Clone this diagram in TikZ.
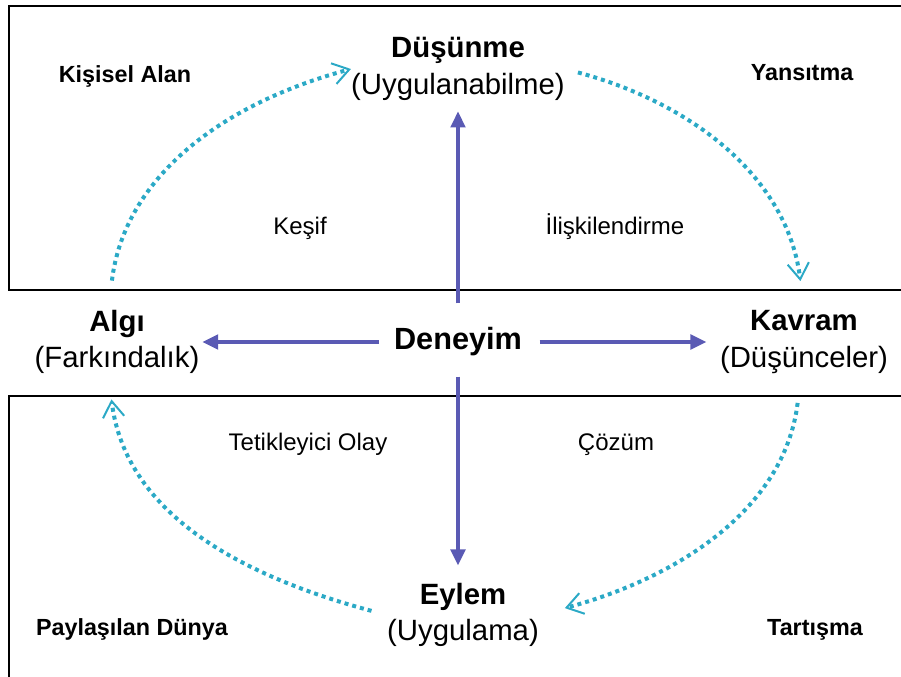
\documentclass[tikz,border=0pt]{standalone}
\usepackage{fontspec}
\setmainfont{Liberation Sans}
\usetikzlibrary{arrows.meta}
\definecolor{flowblue}{HTML}{5A5AB4}
\definecolor{cyclecyan}{HTML}{2BA9C6}
\tikzset{
  stage/.style={align=center,inner sep=0pt,font=\fontsize{22}{27.5}\selectfont},
  area/.style={anchor=base,inner sep=0pt,font=\bfseries\fontsize{17.5}{20}\selectfont},
  phase/.style={anchor=base,inner sep=0pt,font=\fontsize{18}{20}\selectfont},
  flow/.style={draw=flowblue,line width=2.5pt,-{Triangle[length=12pt,width=11pt]}},
  cyclearrow/.style={draw=cyclecyan,line width=3pt,dash pattern=on 3pt off 3pt,
    -{Straight Barb[length=12pt,width=16pt,line width=1.5pt]}}
}
\begin{document}
\begin{tikzpicture}[x=0.75pt,y=0.75pt]
      \useasboundingbox (0,0) rectangle (901,-677);
      \clip (0,0) rectangle (901,-677);
      \draw[line width=1.8pt] (9,-6) rectangle (912,-290);
      \draw[line width=1.8pt] (9,-396) rectangle (912,-690);
      \draw
        (458,-69) node[stage] (dusunme){\textbf{Düşünme}\\(Uygulanabilme)}
        (117,-342) node[stage] (algi){\textbf{Algı}\\(Farkındalık)}
        (804,-342) node[stage] (kavram){\textbf{Kavram}\\(Düşünceler)}
        (463,-615) node[stage] (eylem){\textbf{Eylem}\\(Uygulama)}
        (458,-342) node[inner sep=0pt,font=\bfseries\fontsize{23}{27}\selectfont] (deneyim){Deneyim};
      \draw
        (125,-83) node[area] (kisisel){Kişisel Alan}
        (802,-81) node[area] (yansitma){Yansıtma}
        (132,-635) node[area] (paylasilan){Paylaşılan Dünya}
        (815,-635) node[area] (tartisma){Tartışma}
        (300,-235) node[phase] (kesif){Keşif}
        (615,-235) node[phase] (iliskilendirme){İlişkilendirme}
        (308,-451) node[phase] (tetikleyici){Tetikleyici Olay}
        (616,-451) node[phase] (cozum){Çözüm};
      \begin{scope}[flow]
        \draw[shorten <=18pt,shorten >=8pt] (deneyim.north) to (deneyim.north |- dusunme.south);
        \draw[shorten <=11pt,shorten >=2pt] (deneyim.west) to (deneyim.west -| algi.east);
        \draw[shorten <=13pt,shorten >=10pt] (deneyim.east) to (deneyim.east -| kavram.west);
        \draw[shorten <=15pt,shorten >=13pt] (deneyim.south) to (deneyim.south |- eylem.north);
      \end{scope}
      \begin{scope}[cyclearrow]
        \draw[shorten <=22pt] (algi.105) to[out=83,in=195] (dusunme.west);
        \draw[shorten <=10pt,shorten >=22pt] (dusunme.east) to[out=-15,in=97] (kavram.north);
        \draw[shorten <=22pt,shorten >=20pt] (kavram.-95) to[out=-97,in=15] (eylem.east);
        \draw[shorten <=12pt,shorten >=19pt] (eylem.west) to[out=165,in=-83] (algi.-105);
      \end{scope}
    \end{tikzpicture}
\end{document}
